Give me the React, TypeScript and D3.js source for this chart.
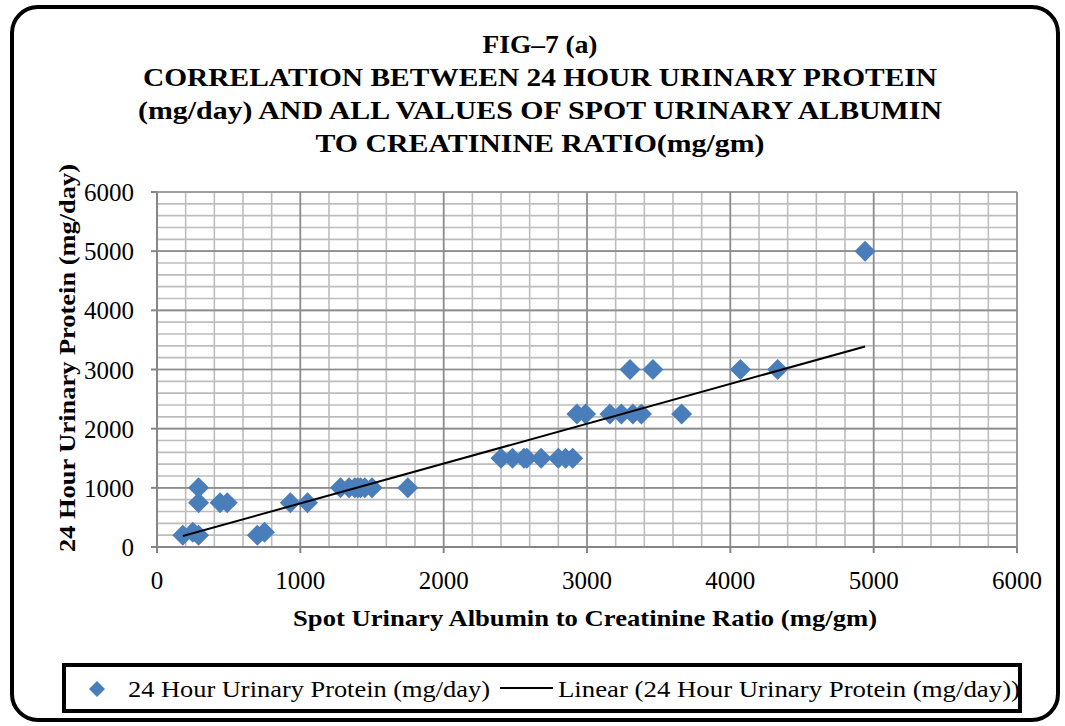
import React from "react";
import * as d3 from "d3";

const titleLines = [
  "FIG\u20137 (a)",
  "CORRELATION BETWEEN 24 HOUR URINARY PROTEIN",
  "(mg/day) AND ALL VALUES OF SPOT URINARY ALBUMIN",
  "TO CREATININE RATIO(mg/gm)",
];
const titleWidths = [115, 794, 804, 449];
const xTitle = "Spot Urinary Albumin to Creatinine Ratio (mg/gm)";
const yTitle = "24 Hour Urinary Protein (mg/day)";
const seriesName = "24 Hour Urinary Protein (mg/day)";
const trendName = "Linear (24 Hour Urinary Protein (mg/day))";

const xTicks = [0, 1000, 2000, 3000, 4000, 5000, 6000];
const yTicks = [0, 1000, 2000, 3000, 4000, 5000, 6000];

const acrValues = [180, 250, 290, 290, 290, 440, 490, 700, 750, 930, 1050,
  1280, 1340, 1380, 1400, 1420, 1450, 1500, 1750,
  2400, 2480, 2560, 2580, 2680, 2800, 2850, 2900,
  2930, 2990, 3160, 3240, 3320, 3380, 3660,
  3300, 3460, 4070, 4330, 4940];
const proteinValues = [200, 250, 200, 1000, 750, 750, 750, 200, 250, 750, 750,
  1000, 1000, 1000, 1000, 1000, 1000, 1000, 1000,
  1500, 1500, 1500, 1500, 1500, 1500, 1500, 1500,
  2250, 2250, 2250, 2250, 2250, 2250, 2250,
  3000, 3000, 3000, 3000, 5000];

// Linear trendline coefficients (as shown in the chart)
const trendSlope = 0.673;
const trendIntercept = 64;

const W = 1065, H = 726;
const PL = 157, PR = 1017, PT = 192, PB = 547;
const FONT = "'Liberation Serif', 'Times New Roman', serif";

export default function App() {
  const x = d3.scaleLinear().domain([0, 6000]).range([PL, PR]);
  const y = d3.scaleLinear().domain([0, 6000]).range([PB, PT]);
  const minor = d3.range(0, 6001, 200);

  const x0 = d3.min(acrValues)!, x1 = d3.max(acrValues)!;
  const trend = d3.line<number>().x(v => x(v)).y(v => y(trendIntercept + trendSlope * v))([x0, x1])!;

  const diamond = (cx: number, cy: number, r: number) =>
    `M${cx},${cy - r}L${cx + r},${cy}L${cx},${cy + r}L${cx - r},${cy}Z`;

  return (
    <svg width={W} height={H} style={{ position: "absolute", left: 0, top: 0, background: "#fff" }} fontFamily={FONT}>
      <rect x={12} y={7} width={1046} height={713} rx={26} ry={26} fill="#fff" stroke="#000" strokeWidth={4} />
      {titleLines.map((t, i) => (
        <text key={i} x={540} y={53 + i * 33} textAnchor="middle" fontWeight="bold" fontSize={26}
          textLength={titleWidths[i]} lengthAdjust="spacingAndGlyphs">{t}</text>
      ))}
      {/* minor grid */}
      {minor.map(v => (
        <g key={"m" + v}>
          <line x1={x(v)} x2={x(v)} y1={PT} y2={PB} stroke="#bdbdbd" strokeWidth={1.6} />
          <line x1={PL} x2={PR} y1={y(v)} y2={y(v)} stroke="#bdbdbd" strokeWidth={1.6} />
        </g>
      ))}
      {xTicks.map(v => (
        <line key={"gx" + v} x1={x(v)} x2={x(v)} y1={PT} y2={PB} stroke="#8c8c8c" strokeWidth={1.6} />
      ))}
      {yTicks.map(v => (
        <line key={"gy" + v} x1={PL} x2={PR} y1={y(v)} y2={y(v)} stroke="#8c8c8c" strokeWidth={1.6} />
      ))}
      {/* axes */}
      <line x1={PL} x2={PL} y1={PT} y2={PB} stroke="#868686" strokeWidth={2} />
      <line x1={PL} x2={PR} y1={PB} y2={PB} stroke="#868686" strokeWidth={2} />
      {yTicks.map(v => (
        <g key={"ty" + v}>
          <line x1={PL - 6} x2={PL} y1={y(v)} y2={y(v)} stroke="#868686" strokeWidth={2} />
          <text x={134} y={y(v) + 9} textAnchor="end" fontSize={25}>{v}</text>
        </g>
      ))}
      {xTicks.map(v => (
        <g key={"tx" + v}>
          <line x1={x(v)} x2={x(v)} y1={PB} y2={PB + 6} stroke="#868686" strokeWidth={2} />
          <text x={x(v)} y={589} textAnchor="middle" fontSize={25}>{v}</text>
        </g>
      ))}
      <text x={585} y={626} textAnchor="middle" fontWeight="bold" fontSize={24}
        textLength={584} lengthAdjust="spacingAndGlyphs">{xTitle}</text>
      <text transform={`translate(75,358) rotate(-90)`} textAnchor="middle" fontWeight="bold" fontSize={24}
        textLength={388} lengthAdjust="spacingAndGlyphs">{yTitle}</text>
      {/* points */}
      {acrValues.map((v, i) => (
        <path key={"p" + i} d={diamond(x(v), y(proteinValues[i]), 10.5)} fill="#4a7ebb" />
      ))}
      <path d={trend} stroke="#000" strokeWidth={2} fill="none" />
      {/* legend */}
      <rect x={64} y={665} width={956} height={46} fill="#fff" stroke="#000" strokeWidth={4} />
      <path d={diamond(97, 689, 8)} fill="#4a7ebb" />
      <text x={128} y={697} fontSize={23} textLength={362} lengthAdjust="spacingAndGlyphs">{seriesName}</text>
      <line x1={500} x2={553} y1={688} y2={688} stroke="#000" strokeWidth={2} />
      <text x={558} y={697} fontSize={23} textLength={462} lengthAdjust="spacingAndGlyphs">{trendName}</text>
    </svg>
  );
}
